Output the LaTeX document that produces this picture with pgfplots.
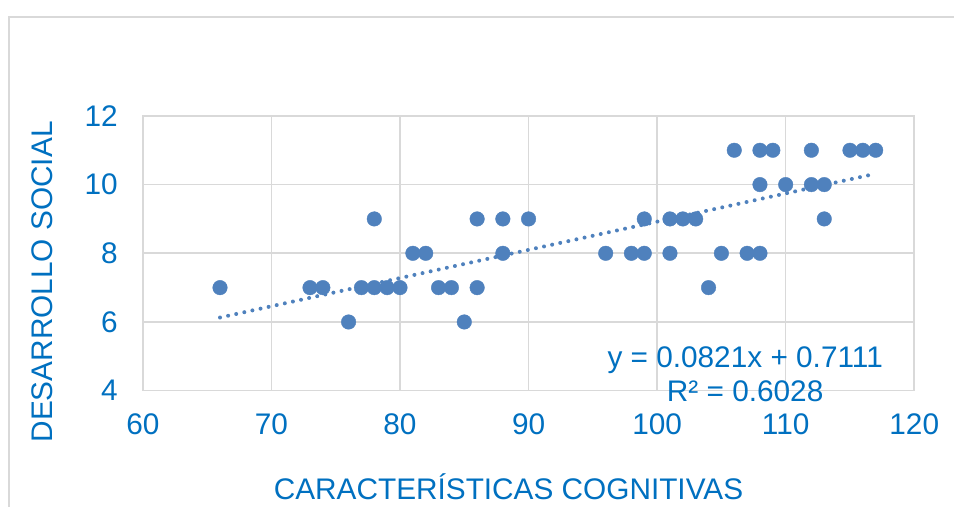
\documentclass[border=0pt]{standalone}
\usepackage{fontspec}
\setmainfont{Liberation Sans}
\usepackage{pgfplots}
\pgfplotsset{compat=1.18}

\definecolor{txtblue}{HTML}{0070C0}
\definecolor{markblue}{HTML}{4F81BD}
\definecolor{gridgray}{HTML}{D9D9D9}

\newcommand{\chartfont}{\fontsize{29.8bp}{35bp}\selectfont}

\begin{document}
\begin{tikzpicture}
\begin{axis}[
    scale only axis,
    width=772bp,
    height=275bp,
    xmin=60, xmax=120,
    ymin=4, ymax=12,
    xtick={60,70,...,120},
    ytick={4,6,...,12},
    grid=major,
    major grid style={gridgray, line width=1.6bp},
    axis line style={gridgray, line width=1.6bp},
    major tick length=0pt,
    clip=false,
    /pgf/number format/assume math mode=true,
    tick label style={font=\chartfont, text=txtblue},
    xticklabel style={anchor=base, inner sep=0pt, yshift=-44bp},
    yticklabel style={anchor=east, inner sep=0pt, xshift=-25bp},
    xlabel={CARACTERÍSTICAS COGNITIVAS},
    ylabel={DESARROLLO SOCIAL},
    label style={font=\chartfont, text=txtblue, inner sep=0pt},
    xlabel style={at={(rel axis cs:0.474,0)}, anchor=base, yshift=-109bp},
    ylabel style={at={(rel axis cs:-0.1166,0.396)}, anchor=base},
]
\addplot[only marks, mark=*, mark size=7.3bp, color=markblue, mark options={draw=markblue, fill=markblue}]
coordinates {
(66,7) (73,7) (74,7) (76,6) (77,7) (78,7) (78,9) (79,7) (80,7)
(81,8) (82,8) (83,7) (84,7) (85,6) (86,9) (86,7) (88,9) (88,8)
(90,9) (96,8) (98,8) (99,8) (99,9) (101,9) (101,8) (102,9) (103,9)
(104,7) (105,8) (106,11) (107,8) (108,8) (108,11) (108,10) (109,11)
(110,10) (112,11) (112,10) (113,10) (113,9) (115,11) (116,11) (117,11)
};
% linear trendline y = 0.0821x + 0.7111
\addplot[color=markblue, line width=4bp, line cap=round, dash pattern=on 0pt off 8.3bp]
coordinates {(66,6.1297) (117,10.3168)};
\node[font=\chartfont, text=txtblue, anchor=base] at (axis cs:106.85,4.669) {y = 0.0821x + 0.7111};
\node[font=\chartfont, text=txtblue, anchor=base] at (axis cs:106.85,3.68) {R² = 0.6028};
\end{axis}
\draw[gridgray, line width=1.6bp] (-134bp,-116bp) -- (-134bp,374bp) -- (812bp,374bp);
\path[use as bounding box] (-143bp,-116bp) rectangle (812bp,391bp);
\end{tikzpicture}
\end{document}
